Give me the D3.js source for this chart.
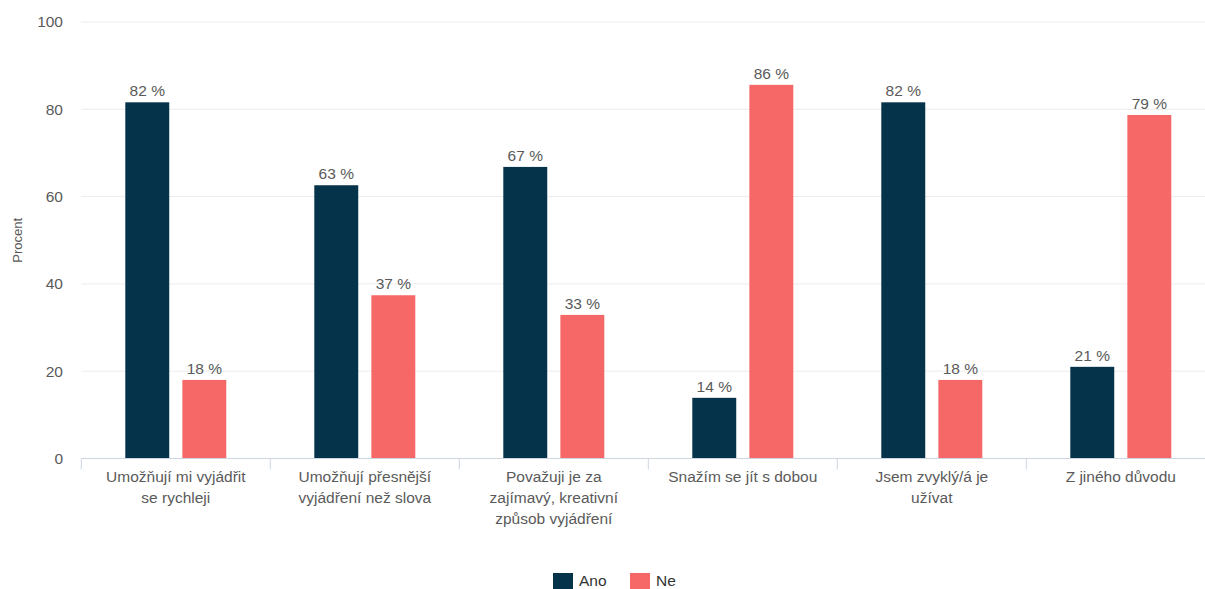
<!DOCTYPE html>
<html><head><meta charset="utf-8">
<script src="https://cdn.jsdelivr.net/npm/d3@7"></script>
<style>body{margin:0;background:#fff;} svg{display:block;font-family:"Liberation Sans",Arial,sans-serif;}</style>
</head><body>
<svg id="c" width="1205" height="589"></svg>
<script>
const categories = [
  ["Umožňují mi vyjádřit", "se rychleji"],
  ["Umožňují přesnější", "vyjádření než slova"],
  ["Považuji je za", "zajímavý, kreativní", "způsob vyjádření"],
  ["Snažím se jít s dobou"],
  ["Jsem zvyklý/á je", "užívat"],
  ["Z jiného důvodu"]
];
const seriesNames = ["Ano", "Ne"];
const ano = [81.6, 62.6, 66.8, 13.9, 81.6, 21.0];
const ne  = [18.0, 37.4, 32.9, 85.6, 18.0, 78.7];
const yTicks = [0, 20, 40, 60, 80, 100];
const colors = ["#05334a", "#f66767"];

(function () {
const svg = d3.select("#c");
const pl = 81.3, pr = 81.3 + 6 * 189, pt = 22, pb = 458.5;
const x0 = d3.scaleBand().domain(d3.range(categories.length)).range([pl, pr]).padding(0);
const groupW = 101;
const x1 = d3.scaleBand().domain(seriesNames).range([0, groupW]).paddingInner(0.23).paddingOuter(0);
const y = d3.scaleLinear().domain([0, 100]).range([pb, pt]);

// gridlines
svg.append("g").selectAll("line").data(yTicks.filter(d => d > 0)).join("line")
  .attr("x1", pl).attr("x2", 1205).attr("y1", d => y(d)).attr("y2", d => y(d))
  .attr("stroke", "#ececec").attr("stroke-width", 1);

// y axis labels
svg.append("g").selectAll("text").data(yTicks).join("text")
  .attr("x", 63).attr("y", d => y(d)).attr("dy", "0.35em").attr("text-anchor", "end")
  .attr("font-size", 15.5).attr("fill", "#5a5a5a").text(d => d);

svg.append("text").attr("transform", `translate(22,${(pt + pb) / 2}) rotate(-90)`)
  .attr("text-anchor", "middle").attr("font-size", 13).attr("fill", "#5a5a5a").text("Procent");

// bars
const data = [];
categories.forEach((c, i) => {
  data.push({i, s: "Ano", v: ano[i], col: colors[0]});
  data.push({i, s: "Ne", v: ne[i], col: colors[1]});
});
const off = (x0.bandwidth() - groupW) / 2;
svg.append("g").selectAll("rect").data(data).join("rect")
  .attr("x", d => x0(d.i) + off + x1(d.s)).attr("width", x1.bandwidth())
  .attr("y", d => y(d.v)).attr("height", d => y(0) - y(d.v)).attr("fill", d => d.col);

svg.append("g").selectAll("text").data(data).join("text")
  .attr("x", d => x0(d.i) + off + x1(d.s) + x1.bandwidth() / 2)
  .attr("y", d => y(d.v) - 6).attr("text-anchor", "middle")
  .attr("font-size", 15.5).attr("fill", "#5a5a5a").text(d => Math.round(d.v) + " %");

// x axis
svg.append("line").attr("x1", pl).attr("x2", 1205).attr("y1", pb).attr("y2", pb)
  .attr("stroke", "#ccd6e3").attr("stroke-width", 1);
svg.append("g").selectAll("line").data(d3.range(categories.length + 1)).join("line")
  .attr("x1", d => pl + d * x0.step()).attr("x2", d => pl + d * x0.step())
  .attr("y1", pb).attr("y2", pb + 11).attr("stroke", "#ccd6e3");

const cl = svg.append("g").selectAll("text").data(categories).join("text")
  .attr("text-anchor", "middle").attr("font-size", 15.5).attr("fill", "#5a5a5a");
cl.each(function(lines, i) {
  d3.select(this).selectAll("tspan").data(lines).join("tspan")
    .attr("x", x0(i) + x0.bandwidth() / 2).attr("y", (d, k) => 482 + k * 21).text(d => d);
});

// legend
const lg = svg.append("g");
const lx = [553, 630];
seriesNames.forEach((s, k) => {
  lg.append("rect").attr("x", lx[k]).attr("y", 573).attr("width", 20).attr("height", 16).attr("fill", colors[k]);
  lg.append("text").attr("x", lx[k] + 26).attr("y", 581).attr("dy", "0.35em")
    .attr("font-size", 15.5).attr("fill", "#333").text(s);
});
})();
</script>
</body></html>
